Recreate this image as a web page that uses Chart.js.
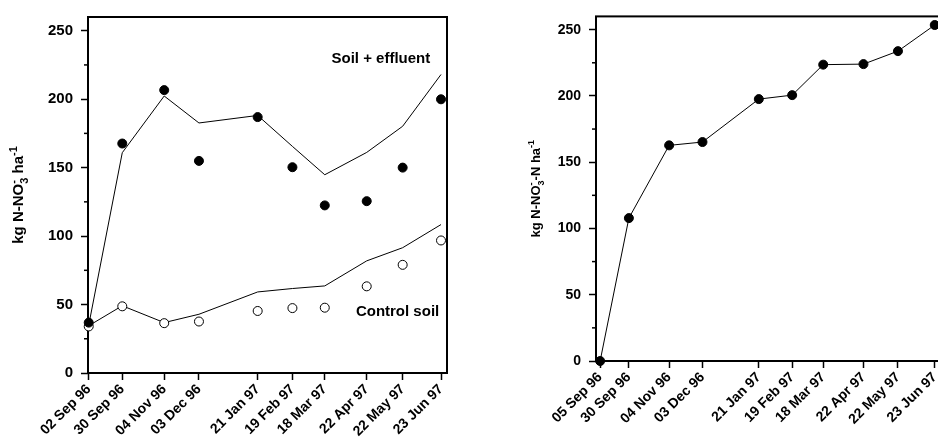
<!DOCTYPE html>
<html>
<head>
<meta charset="utf-8">
<script src="https://cdn.jsdelivr.net/npm/chart.js@4.4.1/dist/chart.umd.min.js"></script>
<style>
  html, body { margin: 0; padding: 0; background: #fff; overflow: hidden; width: 938px; height: 444px; }
  #left { position: absolute; left: 0; top: 0; }
  #right { position: absolute; left: 470px; top: 0; }
</style>
</head>
<body>
<canvas id="left" width="470" height="444"></canvas>
<canvas id="right" width="476" height="444"></canvas>
<script>
// sampling dates
const leftDates = ['1996-09-02', '1996-09-30', '1996-11-04', '1996-12-03', '1997-01-21', '1997-02-19', '1997-03-18', '1997-04-22', '1997-05-22', '1997-06-23'];
const leftLabels = ['02 Sep 96', '30 Sep 96', '04 Nov 96', '03 Dec 96', '21 Jan 97', '19 Feb 97', '18 Mar 97', '22 Apr 97', '22 May 97', '23 Jun 97'];
const rightDates = ['1996-09-05', '1996-09-30', '1996-11-04', '1996-12-03', '1997-01-21', '1997-02-19', '1997-03-18', '1997-04-22', '1997-05-22', '1997-06-23'];
const rightLabels = ['05 Sep 96', '30 Sep 96', '04 Nov 96', '03 Dec 96', '21 Jan 97', '19 Feb 97', '18 Mar 97', '22 Apr 97', '22 May 97', '23 Jun 97'];

// left panel: measured (points) and simulated (lines)
const effluentObs = [36.8, 167.6, 206.6, 154.9, 186.9, 150.3, 122.4, 125.5, 150.0, 199.9];
const effluentSim = [35.0, 160.9, 202.3, 182.6, 188.1, 165.5, 144.8, 161.1, 180.2, 218.0];
const controlObs = [34.0, 48.7, 36.4, 37.6, 45.3, 47.4, 47.7, 63.3, 79.0, 96.8];
const controlSim = [34.5, 49.1, 36.8, 42.9, 59.2, 61.7, 63.6, 81.9, 91.5, 108.4];

// right panel: cumulative
const cumulative = [0, 107.8, 162.7, 165.2, 197.6, 200.6, 223.6, 224.0, 233.8, 253.5];

const yTicks = [0, 50, 100, 150, 200, 250];
const yMinorTicks = [25, 75, 125, 175, 225];

const FONT = "'Liberation Sans', Arial, Helvetica, sans-serif";
const day0 = Date.parse('1996-09-02');
const toDay = d => (Date.parse(d) - day0) / 864e5;
const leftDays = leftDates.map(toDay);
const rightDays = rightDates.map(toDay);
const pts = (days, vals) => days.map((d, i) => ({ x: d, y: vals[i] }));

// rotated axis title with sub/superscripts
function drawRich(ctx, parts, cx, cy, size) {
  const small = Math.round(size * 0.7);
  ctx.save();
  ctx.translate(cx, cy);
  ctx.rotate(-Math.PI / 2);
  ctx.fillStyle = '#000';
  ctx.textBaseline = 'alphabetic';
  ctx.textAlign = 'left';
  let total = 0, prev = 0;
  const items = parts.map(([t, k]) => {
    ctx.font = 'bold ' + (k ? small : size) + 'px ' + FONT;
    const w = ctx.measureText(t).width;
    return { t, k, w };
  });
  items.forEach(it => { if (it.k === 'stack') { total += Math.max(0, it.w - prev); } else { total += it.w; } prev = it.w; });
  let x = -total / 2, lastX = x, lastW = 0;
  items.forEach(it => {
    ctx.font = 'bold ' + (it.k ? small : size) + 'px ' + FONT;
    let dy = size * 0.36;
    if (it.k === 'sub') dy += size * 0.3;
    if (it.k === 'sup' || it.k === 'stack') dy -= size * 0.45;
    const px = it.k === 'stack' ? lastX : x;
    ctx.fillText(it.t, px, dy);
    if (it.k === 'stack') { x = lastX + Math.max(lastW, it.w); }
    else { lastX = x; lastW = it.w; x += it.w; }
  });
  ctx.restore();
}

const framePlugin = {
  id: 'frame',
  beforeDatasetsDraw(chart, args, opts) {
    const { ctx, chartArea: a } = chart;
    const y = chart.scales.y;
    ctx.save();
    ctx.strokeStyle = '#000';
    ctx.lineWidth = 2;
    ctx.strokeRect(a.left, a.top, a.right - a.left, a.bottom - a.top);
    ctx.lineWidth = 1.5;
    yMinorTicks.forEach(v => {
      const py = y.getPixelForValue(v);
      ctx.beginPath();
      ctx.moveTo(a.left - 4, py);
      ctx.lineTo(a.left, py);
      ctx.stroke();
    });
    ctx.restore();
    drawRich(ctx, opts.title, a.left - opts.titleGap, (a.top + a.bottom) / 2, opts.titleSize);
  },
  afterDraw(chart, args, opts) {
    const { ctx } = chart;
    const { x, y } = chart.scales;
    ctx.save();
    ctx.fillStyle = '#000';
    ctx.font = 'bold 15px ' + FONT;
    ctx.textAlign = 'right';
    ctx.textBaseline = 'middle';
    (opts.notes || []).forEach(n => ctx.fillText(n.text, x.getPixelForValue(n.x), y.getPixelForValue(n.y)));
    ctx.restore();
  }
};

function makeOptions(days, labels, yWidth, xHeight, pad, tickSize, frame) {
  return {
    responsive: false,
    animation: false,
    layout: { padding: pad },
    plugins: { legend: { display: false }, tooltip: { enabled: false }, frame: frame },
    scales: {
      x: {
        type: 'linear',
        min: -0.6,
        max: 299,
        afterBuildTicks: s => { s.ticks = days.map(v => ({ value: v })); },
        afterFit: s => { s.height = xHeight; s.paddingLeft = 0; s.paddingRight = 0; },
        ticks: {
          autoSkip: false, maxRotation: 45, minRotation: 45, padding: 1,
          color: '#000', font: { family: FONT, size: 14, weight: 'bold' },
          callback: (v, i) => labels[i]
        },
        grid: { drawOnChartArea: false, drawTicks: true, tickLength: 7, tickWidth: 1.5, tickColor: '#000' },
        border: { display: false }
      },
      y: {
        min: 0,
        max: 260,
        afterBuildTicks: s => { s.ticks = yTicks.map(v => ({ value: v })); },
        afterFit: s => { s.width = yWidth; },
        ticks: { padding: 8, color: '#000', font: { family: FONT, size: tickSize, weight: 'bold' } },
        grid: { drawOnChartArea: false, drawTicks: true, tickLength: 7, tickWidth: 1.5, tickColor: '#000' },
        border: { display: false }
      }
    }
  };
}

new Chart(document.getElementById('left'), {
  type: 'line',
  data: {
    datasets: [
      { label: 'Soil + effluent', data: pts(leftDays, effluentObs), showLine: false, pointRadius: 4.5, pointBackgroundColor: '#000', pointBorderColor: '#000', pointBorderWidth: 1, clip: false, order: 1 },
      { label: 'Control soil', data: pts(leftDays, controlObs), showLine: false, pointRadius: 4.5, pointBackgroundColor: '#fff', pointBorderColor: '#000', pointBorderWidth: 1, clip: false, order: 2 },
      { label: 'Soil + effluent (sim)', data: pts(leftDays, effluentSim), borderColor: '#000', borderWidth: 1, pointRadius: 0, tension: 0, clip: false, order: 3 },
      { label: 'Control soil (sim)', data: pts(leftDays, controlSim), borderColor: '#000', borderWidth: 1, pointRadius: 0, tension: 0, clip: false, order: 4 }
    ]
  },
  options: makeOptions(leftDays, leftLabels, 88, 71, { top: 13, right: 23, left: 0, bottom: 0 }, 15, {
    title: [['kg N-NO', ''], ['3', 'sub'], ['-', 'stack'], [' ha', ''], ['-1', 'sup']],
    titleGap: 70, titleSize: 15,
    notes: [{ text: 'Soil + effluent', x: 285, y: 229.5 }, { text: 'Control soil', x: 292.5, y: 44.8 }]
  }),
  plugins: [framePlugin]
});

new Chart(document.getElementById('right'), {
  type: 'line',
  data: {
    datasets: [
      { label: 'Cumulative', data: pts(rightDays, cumulative), borderColor: '#000', borderWidth: 1, tension: 0, pointRadius: 4.5, pointBackgroundColor: '#000', pointBorderColor: '#000', clip: false }
    ]
  },
  options: makeOptions(rightDays, rightLabels, 126, 83, { top: 13, right: 4, left: 0, bottom: 0 }, 14, {
    title: [['kg N-NO', ''], ['3', 'sub'], ['-', 'stack'], ['-N ha', ''], ['-1', 'sup']],
    titleGap: 61, titleSize: 13
  }),
  plugins: [framePlugin]
});
</script>
</body>
</html>
